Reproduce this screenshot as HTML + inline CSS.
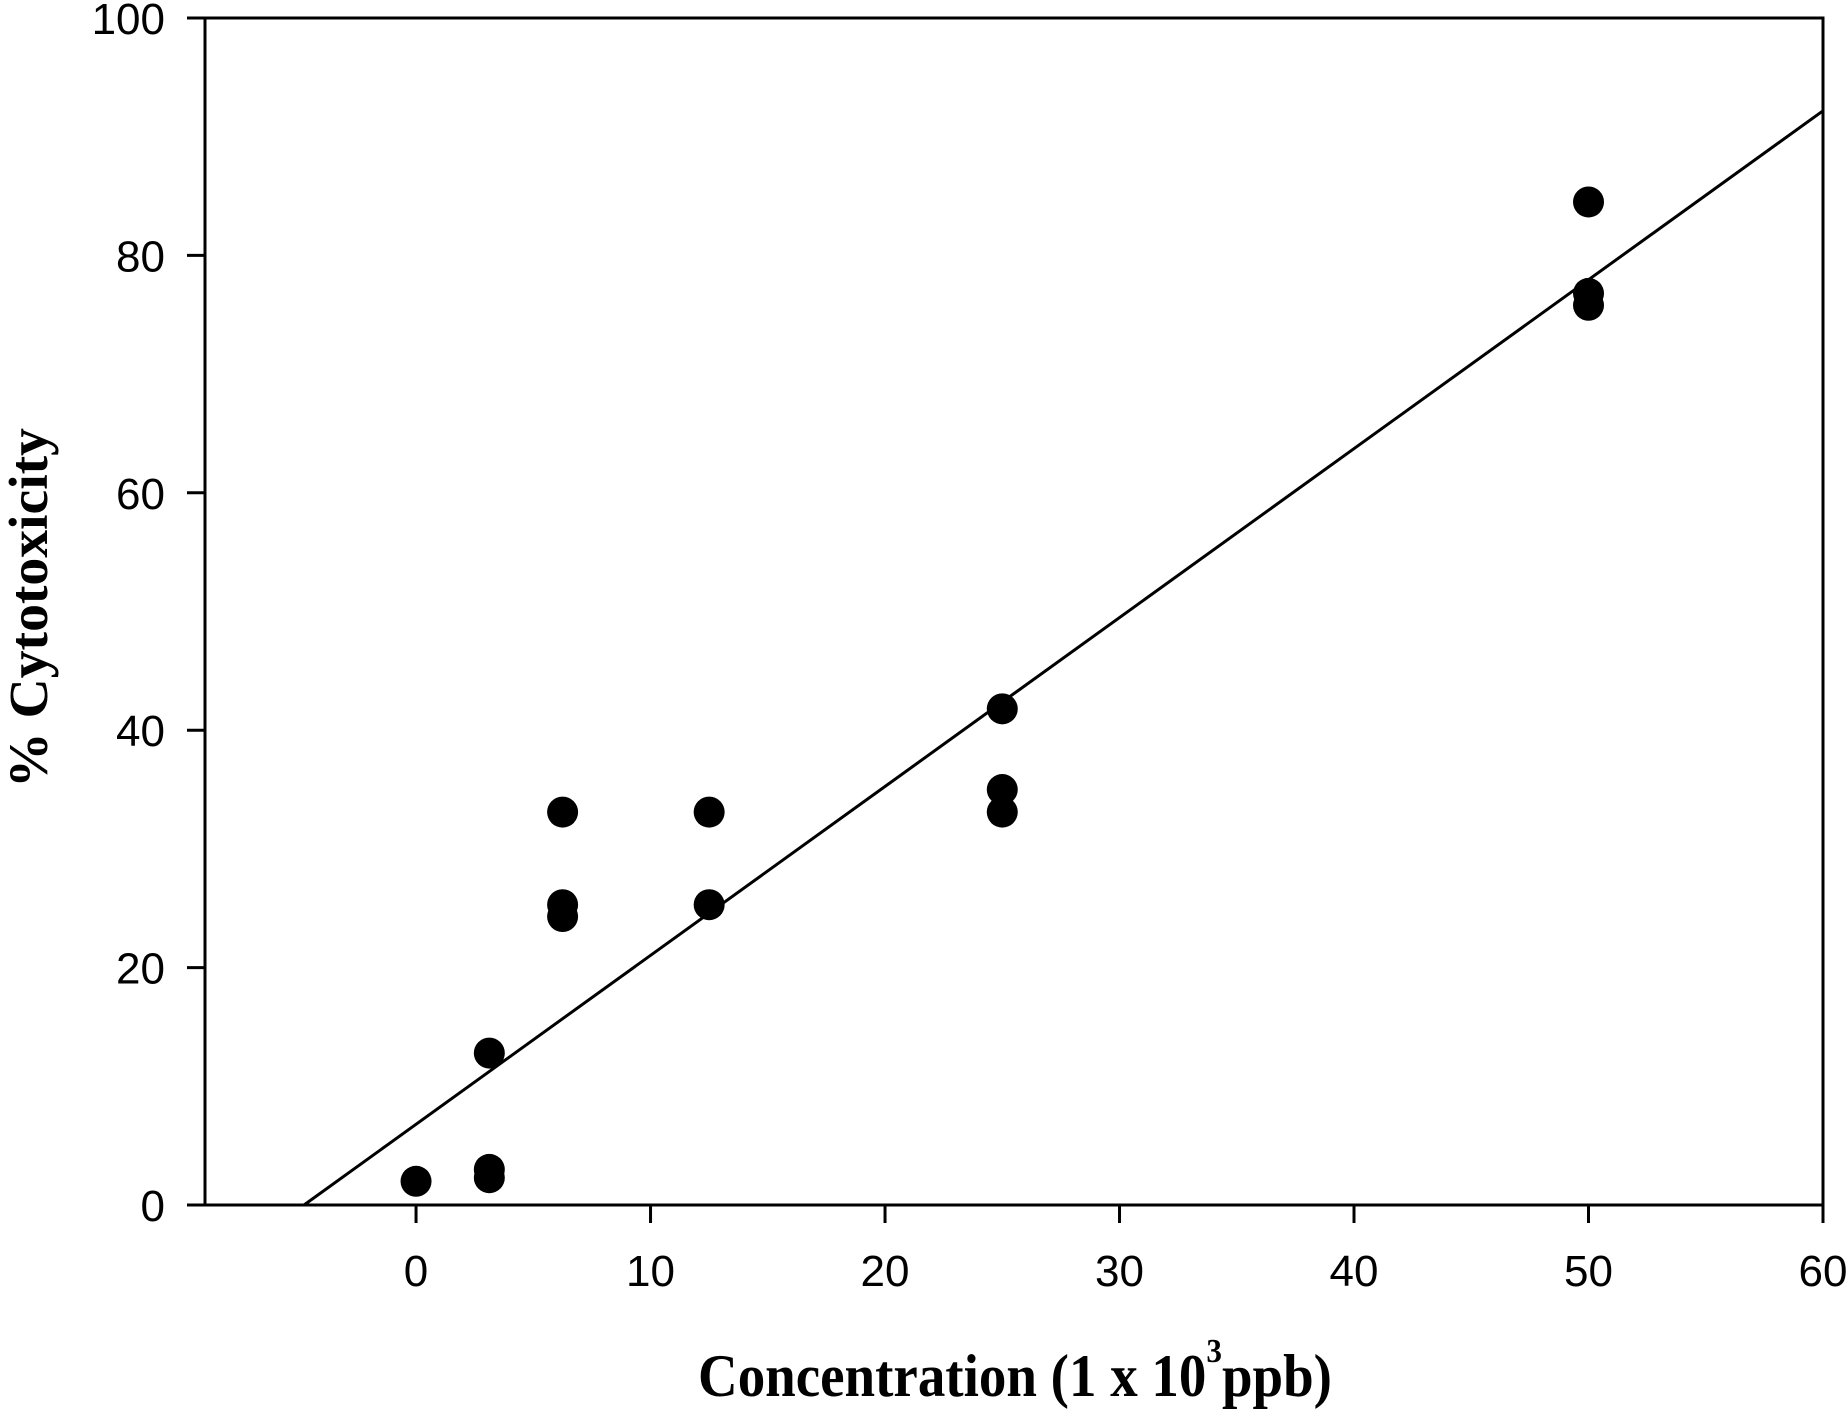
<!DOCTYPE html>
<html><head><meta charset="utf-8"><style>
html,body{margin:0;padding:0;background:#fff;}
svg{display:block;}
</style></head><body>
<svg id="chart" width="1847" height="1409" viewBox="0 0 1847 1409" xmlns="http://www.w3.org/2000/svg">
<g id="axes"></g>
<g id="marks"></g>
<text x="698" y="1396" text-anchor="start" font-family="Liberation Serif, serif" font-weight="bold" font-size="60" textLength="634" lengthAdjust="spacingAndGlyphs">Concentration (1 x 10<tspan dy="-34" font-size="34">3</tspan><tspan dy="34">ppb)</tspan></text>
<text transform="translate(47,608) rotate(-90)" text-anchor="middle" font-family="Liberation Serif, serif" font-weight="bold" font-size="55" textLength="360" lengthAdjust="spacingAndGlyphs">% Cytotoxicity</text>
</svg>
<script>
const xTicks = [0, 10, 20, 30, 40, 50, 60];
const yTicks = [0, 20, 40, 60, 80, 100];
const xValues = [0, 3.125, 3.125, 3.125, 6.25, 6.25, 6.25, 12.5, 12.5, 25, 25, 25, 50, 50, 50];
const yValues = [2.0, 12.8, 3.0, 2.3, 33.1, 25.3, 24.3, 33.1, 25.3, 41.8, 35.0, 33.1, 84.5, 76.8, 75.8];
const fitSlope = [1.423];
const fitIntercept = [6.8];
const xDomain = [-9, 60];
const yDomain = [0, 100];

const L = 205, R = 1823, T = 18, B = 1205;
const NS = 'http://www.w3.org/2000/svg';
function sx(v){ return L + (v - xDomain[0]) / (xDomain[1] - xDomain[0]) * (R - L); }
function sy(v){ return B - (v - yDomain[0]) / (yDomain[1] - yDomain[0]) * (B - T); }
function mk(tag, attrs, parent){
  const e = document.createElementNS(NS, tag);
  for (const k in attrs) e.setAttribute(k, attrs[k]);
  parent.appendChild(e);
  return e;
}
const axes = document.getElementById('axes');
const marks = document.getElementById('marks');

let frame = mk('rect', {x:L, y:T, width:R-L, height:B-T, fill:'none', stroke:'#000', 'stroke-width':3}, axes);



xTicks.forEach(function(t){
  const x = sx(t);
  const tk = mk('line', {x1:x, x2:x, y1:B, y2:B+18, stroke:'#000', 'stroke-width':3}, axes);
  
  
  const lb = mk('text', {x:x, y:1286, 'text-anchor':'middle', 'font-family':'Liberation Sans, sans-serif', 'font-size':44}, axes);
  lb.textContent = t;
  
  
});
yTicks.forEach(function(t){
  const y = sy(t);
  const tk = mk('line', {x1:L-18, x2:L, y1:y, y2:y, stroke:'#000', 'stroke-width':3}, axes);
  
  
  const lb = mk('text', {x:165, y:y+16, 'text-anchor':'end', 'font-family':'Liberation Sans, sans-serif', 'font-size':44}, axes);
  lb.textContent = t;
  
  
});

const x0 = -fitIntercept[0] / fitSlope[0];
const fit = mk('line', {x1:sx(x0), y1:sy(0), x2:sx(60), y2:sy(fitIntercept[0] + fitSlope[0]*60), stroke:'#000', 'stroke-width':3}, marks);



xValues.forEach(function(v, i){
  const c = mk('circle', {cx:sx(v), cy:sy(yValues[i]), r:15.5, fill:'#000'}, marks);
  
  
});
</script>
</body></html>
